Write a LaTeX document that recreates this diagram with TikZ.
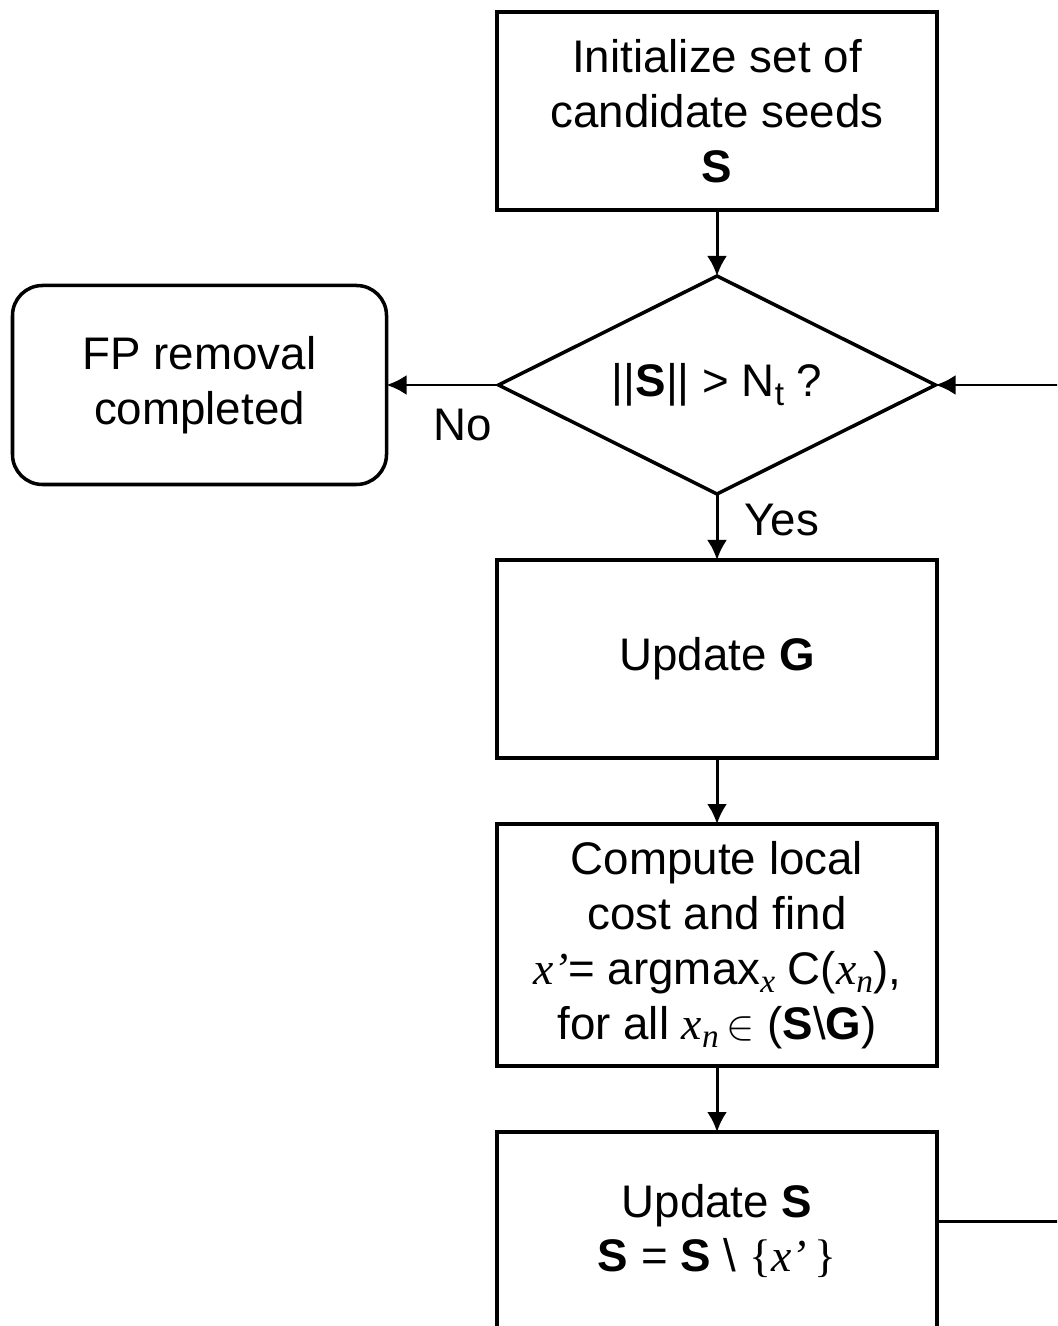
\documentclass[tikz,border=0pt]{standalone}
\usepackage{fontspec}
\setmainfont{Liberation Sans}
\newfontfamily\tms{Liberation Serif}
\usepackage{tikz}
\usetikzlibrary{arrows.meta,positioning,shapes.geometric}
\newcommand{\itm}[1]{{\tms\itshape #1}}
\newcommand{\lowsub}[1]{\raisebox{-.35ex}{\fontsize{9.5}{9.5}\selectfont #1}}
\tikzset{
  procbox/.style={draw=black,line width=1pt,align=center,minimum width=4.4cm,minimum height=1.98cm,inner sep=4pt,outer sep=0pt},
  decision/.style={draw=black,line width=1pt,diamond,aspect=2,align=center,minimum width=4.37cm,minimum height=2.18cm,inner sep=0pt,outer sep=0pt},
  endbox/.style={draw=black,line width=1pt,rounded corners=.3cm,align=center,minimum width=3.74cm,minimum height=1.99cm,outer sep=0pt},
  flow/.style={-{Latex[length=2mm,width=2mm]},line width=.85pt},
}
\begin{document}
\begin{tikzpicture}[node distance=.66cm,font=\fontsize{13}{15.6}\selectfont]
      \clip (0,0) rectangle (10.57,-13.26);
      \node[procbox] (init) at (7.17,-1.11) {Initialize set of\\candidate seeds\\\textbf{S}};
      \node[decision,below=of init] (test) {||\textbf{S}|| > N\lowsub{t} ?};
      \node[endbox,left=1.12cm of test] (done) {FP removal\\completed};
      \node[procbox,below=of test] (updg) {Update \textbf{G}};
      \node[procbox,minimum height=2.42cm,below=of updg] (cost) {Compute local\\cost and find\\\itm{x’}= argmax\lowsub{\itm{x}} C(\itm{x}\lowsub{\itm{n}}),\\for all \itm{x}\lowsub{\itm{n}}\,$\in$ (\textbf{S}\textbackslash\textbf{G})};
      \node[procbox,below=of cost] (upds) {Update \textbf{S}\\\textbf{S} = \textbf{S} \textbackslash\ {\tms\{}\itm{x’}\,{\tms\}}};
      \draw[flow] (init)--(test);
      \draw[flow] (test.west)--node[below=3pt,pos=.32]{No}(done);
      \draw[flow] (test.south)--node[right=4pt,pos=.4]{Yes}(updg);
      \draw[flow] (updg)--(cost);
      \draw[flow] (cost)--(upds);
      \draw[flow] ([yshift=.1cm]upds.east)--++(1.6,0)|-(test.east);
    \end{tikzpicture}
\end{document}
